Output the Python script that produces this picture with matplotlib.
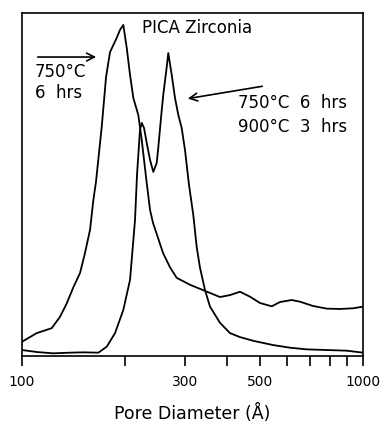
import matplotlib

matplotlib.use("Agg")
import matplotlib.pyplot as plt
from matplotlib.ticker import FixedLocator, NullFormatter, FixedFormatter

# pore size distribution, relative intensity (peak = 100)
calc_750_d = [100, 110.4, 122.2, 129.2, 135.3, 141.1, 148.0, 153.0, 158.3, 161.9,
              164.8, 171.3, 176.4, 181.2, 189.6, 193.8, 198.2, 202.8, 207.4, 212.1,
              219.3, 224.4, 232.1, 237.4, 242.2, 259.2, 271.6, 284.2, 311.0, 339.5,
              380.8, 407.4, 435.8, 466.3, 498.9, 539.9, 571.0, 617.9, 653.5, 713.5,
              782.8, 856.2, 934.7, 1000]
calc_750_i = [4.3, 6.9, 8.4, 11.8, 15.9, 20.5, 25.1, 31.1, 38.1, 47.1,
              52.6, 69.2, 84.3, 91.8, 96.1, 98.5, 100.0, 93.1, 84.9, 77.9,
              72.8, 65.3, 52.3, 44.1, 40.2, 31.1, 26.8, 23.6, 21.5, 19.9,
              17.8, 18.4, 19.4, 17.9, 16.0, 15.0, 16.3, 16.9, 16.4, 15.1,
              14.3, 14.2, 14.4, 14.9]

calc_900_d = [100, 110.4, 123.5, 138.3, 151.3, 167.5, 177.2, 187.4, 198.2, 207.4,
              214.5, 217.4, 221.8, 224.4, 227.9, 232.1, 237.4, 242.7, 248.3, 250.9,
              256.9, 259.6, 265.7, 268.5, 274.8, 281.0, 287.3, 293.9, 300.6, 308.8,
              317.9, 325.3, 332.7, 344.1, 355.9, 380.8, 407.4, 435.8, 475.9, 544.6,
              610.9, 683.8, 782.8, 896.1, 1000]
calc_900_i = [1.8, 1.2, 0.8, 1.0, 1.1, 1.0, 2.8, 6.9, 13.9, 23.0,
              41.1, 54.7, 68.3, 70.4, 68.9, 64.4, 59.2, 55.6, 58.3, 62.8,
              74.3, 78.9, 87.3, 91.5, 84.9, 77.9, 72.8, 68.9, 62.2, 51.7,
              42.6, 32.9, 26.6, 19.9, 14.9, 10.0, 6.9, 5.7, 4.6, 3.3,
              2.5, 2.0, 1.8, 1.6, 1.0]

tick_pos = [100, 200, 300, 400, 500, 600, 700, 800, 900, 1000]
tick_labels = ["100", "", "300", "", "500", "", "", "", "", "1000"]

plt.rcParams["font.family"] = ["DejaVu Sans"]

fig = plt.figure(figsize=(3.82, 4.25), dpi=100)
ax = fig.add_axes([0.0576, 0.1624, 0.8927, 0.807])

ax.plot(calc_750_d, calc_750_i, color="black", lw=1.3)
ax.plot(calc_900_d, calc_900_i, color="black", lw=1.3)

ax.set_xscale("log")
ax.set_xlim(100, 1000)
ax.set_ylim(0, 103.6)

ax.xaxis.set_major_locator(FixedLocator(tick_pos))
ax.xaxis.set_major_formatter(FixedFormatter(tick_labels))
ax.xaxis.set_minor_locator(FixedLocator([]))
ax.xaxis.set_minor_formatter(NullFormatter())
ax.tick_params(axis="x", direction="out", length=7.5, width=1.2, pad=6,
               labelsize=10)
ax.set_yticks([])
for sp in ax.spines.values():
    sp.set_linewidth(1.2)

ax.set_xlabel("Pore Diameter (Å)", fontsize=12.5, labelpad=11)

ax.text(224.4, 99.1, "PICA Zirconia", fontsize=12, va="center", ha="left")
ax.text(109.2, 85.9, "750°C", fontsize=12, va="center", ha="left")
ax.text(109.2, 79.4, "6  hrs", fontsize=12, va="center", ha="left")
ax.text(430.8, 76.3, "750°C  6  hrs", fontsize=12, va="center", ha="left")
ax.text(430.8, 69.3, "900°C  3  hrs", fontsize=12, va="center", ha="left")

arrow = dict(arrowstyle="->", color="black", lw=1.2, mutation_scale=14)
ax.annotate("", xy=(168.2, 90.3), xytext=(109.2, 90.3), arrowprops=arrow)
ax.annotate("", xy=(300.6, 77.6), xytext=(515.9, 81.6), arrowprops=arrow)

fig.savefig("out.png", dpi=100)
